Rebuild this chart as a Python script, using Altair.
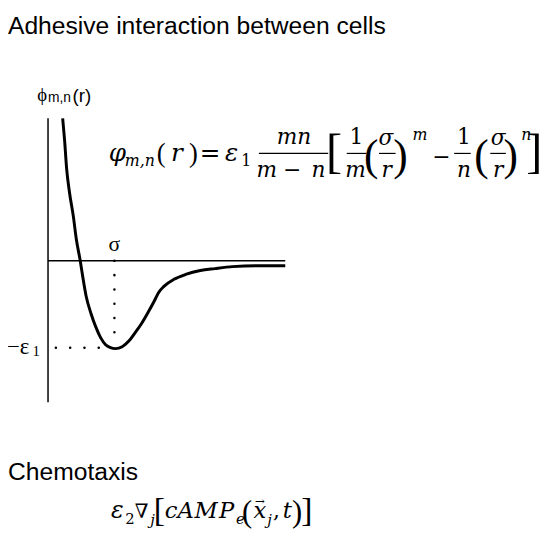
import altair as alt
import pandas as pd

# ---- curve (image pixel space) ----
curve_r = [59, 61, 63, 66, 70, 73, 77, 80, 83, 88, 93, 98, 103, 108, 113, 120, 127, 133, 140,
           147, 153, 157, 163, 173, 185, 200, 215, 233, 260, 287]
curve_phi = [112, 135, 163, 188, 213, 236, 258, 277, 294, 312, 326, 337, 344, 347, 348, 346, 340,
             332, 322, 310, 299, 291, 284, 277, 272, 268, 266, 264, 263, 263]

# axes segments
axis_x1 = [44, 44]
axis_x2 = [44, 287]
axis_y1 = [112, 258]
axis_y2 = [403, 258]

# dotted guides
dot_x1 = [112, 52]
dot_x2 = [112, 100]
dot_y1 = [258, 347]
dot_y2 = [338, 347]

# fraction bars
frac_x1 = [260, 350, 383, 460, 497]
frac_x2 = [331, 370, 400, 477, 513]
frac_y = [148, 148, 148, 148, 148]

# text pieces
sans_left_t = ["Adhesive interaction between cells", "Chemotaxis", "m,n", "(r)"]
sans_left_x = [3, 3, 44, 69]
sans_left_y = [26, 483, 95, 95]
sans_left_s = [25, 25, 14, 19]

serif_left_t = ["\u2212\u03b5", "1"]
serif_left_x = [2, 28]
serif_left_y = [354, 356]
serif_left_s = [23, 15]

serif_c_t = ["\u03d5", "\u03c3"]
serif_c_x = [38, 112]
serif_c_y = [94, 248]
serif_c_s = [19, 22]

# math italic pieces
mi_t = ["\u03c6", "m,n", "r", "\u03b5", "mn", "m", "n", "m", "\u03c3", "r", "m", "n", "\u03c3", "r", "n",
        "\u03b5", "j", "c", "A", "M", "P", "e", "x", "j", "t"]
mi_x = [115, 138, 176, 232, 296, 268, 321, 359, 390, 391, 425, 470, 505, 505, 534,
        115, 151, 170, 185, 206, 227, 241, 261, 271, 289]
mi_y = [156, 161, 156, 156, 138, 172, 172, 172, 139, 172, 134, 172, 139, 172, 134,
        522, 529, 522, 522, 522, 522, 528, 522, 529, 522]
mi_s = [25, 16, 25, 25, 22, 22, 22, 22, 22, 22, 16, 22, 22, 22, 16,
        24, 15, 23, 23, 23, 23, 15, 23, 15, 23]

# math upright pieces (DejaVu Serif)
mu_t = ["=", "1", "\u2212", "1", "\u2212", "1", "2", "\u2207", "\u2192", ","]
mu_x = [210, 247, 294, 360, 447, 470, 128, 140, 261, 278]
mu_y = [156, 161, 172, 138, 159, 138, 528, 522, 508, 522]
mu_s = [25, 16, 22, 22, 22, 22, 15, 20, 12, 22]

# delimiters (Liberation Serif)
dl_t = ["(", ")", "[", "(", ")", "(", ")", "]", "[", "(", ")", "]"]
dl_x = [160, 193, 337, 375, 405, 488, 518, 542, 158, 248, 299, 309]
dl_y = [157, 157, 162, 165, 165, 165, 165, 162, 525, 526, 526, 525]
dl_s = [27, 27, 49, 44, 44, 44, 44, 49, 34, 31, 31, 34]

xs = alt.Scale(domain=[3, 550], nice=False, zero=False)
ys = alt.Scale(domain=[537, 3], nice=False, zero=False)


def X(f):
    return alt.X(f"{f}:Q", scale=xs, axis=None)


def Y(f):
    return alt.Y(f"{f}:Q", scale=ys, axis=None)


curve = alt.Chart(pd.DataFrame({"r": curve_r, "phi": curve_phi})).mark_line(
    color="black", strokeWidth=3, interpolate="monotone"
).encode(x=X("r"), y=Y("phi"), order="r:Q")

axes = alt.Chart(pd.DataFrame({"x": axis_x1, "x2": axis_x2, "y": axis_y1, "y2": axis_y2})).mark_rule(
    color="black", strokeWidth=1.5
).encode(x=X("x"), x2="x2:Q", y=Y("y"), y2="y2:Q")

dots = alt.Chart(pd.DataFrame({"x": dot_x1, "x2": dot_x2, "y": dot_y1, "y2": dot_y2})).mark_rule(
    color="black", strokeWidth=2.5, strokeDash=[0.1, 14.4], strokeCap="round"
).encode(x=X("x"), x2="x2:Q", y=Y("y"), y2="y2:Q")

fracs = alt.Chart(pd.DataFrame({"x": frac_x1, "x2": frac_x2, "y": frac_y})).mark_rule(
    color="black", strokeWidth=1.2
).encode(x=X("x"), x2="x2:Q", y=Y("y"))


def texts(t, x, y, s, font, align, style="normal"):
    df = pd.DataFrame({"t": t, "x": x, "y": y, "s": s})
    return alt.Chart(df).mark_text(
        font=font, fontStyle=style, align=align, baseline="alphabetic", color="black"
    ).encode(
        x=X("x"), y=Y("y"), text="t:N",
        size=alt.Size("s:Q", scale=None, legend=None),
    )


layers = [
    axes, dots, fracs, curve,
    texts(sans_left_t, sans_left_x, sans_left_y, sans_left_s, "Liberation Sans", "left"),
    texts(serif_left_t, serif_left_x, serif_left_y, serif_left_s, "Liberation Serif", "left"),
    texts(serif_c_t, serif_c_x, serif_c_y, serif_c_s, "Liberation Serif", "center"),
    texts(mi_t, mi_x, mi_y, mi_s, "DejaVu Serif", "center", "italic"),
    texts(mu_t, mu_x, mu_y, mu_s, "DejaVu Serif", "center"),
    texts(dl_t, dl_x, dl_y, dl_s, "Liberation Serif", "center"),
]

chart = alt.layer(*layers).properties(
    width=542, height=529, padding=0, autosize="none", background="white"
).configure_view(strokeWidth=0)

chart.save("out.html", embed_options={"renderer": "svg", "actions": False})
